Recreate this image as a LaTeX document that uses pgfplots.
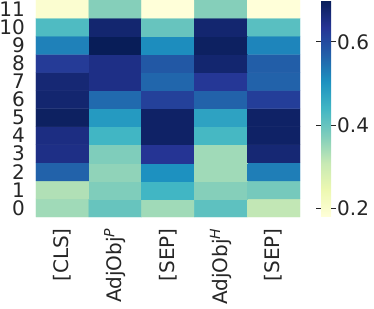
\documentclass[border=0pt]{standalone}
\usepackage{pgfplots}
\pgfplotsset{compat=1.18}
\usepackage{fontspec}
\setmainfont{DejaVu Sans}
\definecolor{txt}{HTML}{262626}
\begin{document}
\begin{tikzpicture}
\begin{axis}[
  name=main,
  scale only axis, width=264pt, height=217pt,
  xmin=-0.5, xmax=4.5, ymin=-0.5, ymax=11.5,
  axis line style={draw=none},
  /pgf/number format/assume math mode=true,
  colormap={ylgnbu}{rgb255=(255,255,217) rgb255=(237,248,177) rgb255=(199,233,180) rgb255=(127,205,187) rgb255=(65,182,196) rgb255=(29,145,192) rgb255=(34,94,168) rgb255=(37,52,148) rgb255=(8,29,88)},
  point meta min=0.18, point meta max=0.70,
  xtick={0,1,2,3,4},
  xticklabels={{[CLS]},{AdjObj\textsuperscript{\textit{P}}},{[SEP]},{AdjObj\textsuperscript{\textit{H}}},{[SEP]}},
  ytick={0,...,11},
  yticklabels={0,1,2,3,4,5,6,7,8,9,10,11},
  tick align=outside, major tick length=11pt, tick style={draw=none},
  ticklabel style={font=\fontsize{20}{24}\selectfont, text=txt, inner sep=0pt},
  xticklabel style={rotate=90, anchor=east},
  yticklabel style={anchor=east},
  colorbar right,
  colorbar style={
    at={(parent axis.north east)}, anchor=north west, xshift=12.5pt,
    width=10pt, height=217pt, scale only axis,
    axis line style={draw=none},
    ytick={0.2,0.4,0.6},
    yticklabel style={font=\fontsize{20}{24}\selectfont, text=txt, inner sep=1pt,
      /pgf/number format/assume math mode=true, /pgf/number format/fixed, /pgf/number format/precision=1, /pgf/number format/fixed zerofill},
    tick align=outside, major tick length=5pt, tick style={draw=txt, line width=0.8pt},
  },
]
\addplot[matrix plot*, mesh/cols=5, point meta=explicit] table[meta=c] {
x y c
0 0 0.345
1 0 0.40
2 0 0.345
3 0 0.41
4 0 0.315
0 1 0.33
1 1 0.375
2 1 0.44
3 1 0.37
4 1 0.385
0 2 0.565
1 2 0.36
2 2 0.505
3 2 0.345
4 2 0.53
0 3 0.65
1 3 0.375
2 3 0.635
3 3 0.345
4 3 0.67
0 4 0.655
1 4 0.44
2 4 0.685
3 4 0.435
4 4 0.685
0 5 0.69
1 5 0.49
2 5 0.685
3 5 0.475
4 5 0.685
0 6 0.675
1 6 0.555
2 6 0.615
3 6 0.565
4 6 0.62
0 7 0.67
1 7 0.65
2 7 0.56
3 7 0.63
4 7 0.565
0 8 0.625
1 8 0.65
2 8 0.58
3 8 0.675
4 8 0.57
0 9 0.525
1 9 0.70
2 9 0.51
3 9 0.69
4 9 0.52
0 10 0.425
1 10 0.675
2 10 0.40
3 10 0.675
4 10 0.415
0 11 0.195
1 11 0.37
2 11 0.18
3 11 0.37
4 11 0.18
};
\end{axis}
\pgfresetboundingbox
\path (main.north west) ++(-36pt,0pt) rectangle ++(374pt,-308pt);
\end{tikzpicture}
\end{document}
